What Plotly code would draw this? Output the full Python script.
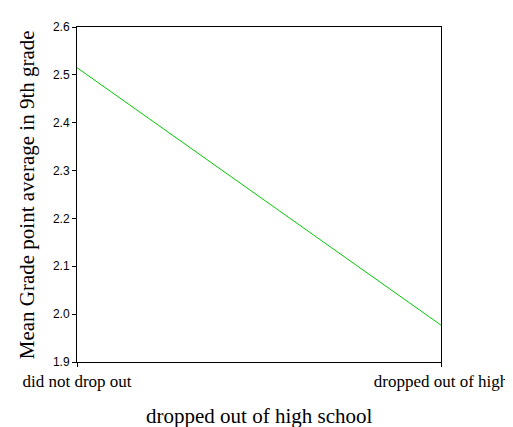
import plotly.graph_objects as go

categories = ["did not drop out", "dropped out of high"]
mean_gpa = [2.515, 1.977]
y_ticks = [1.9, 2.0, 2.1, 2.2, 2.3, 2.4, 2.5, 2.6]
y_title = "Mean Grade point average in 9th grade"
x_title = "dropped out of high school"

x_pos = list(range(len(categories)))

fig = go.Figure()
fig.add_trace(go.Scatter(
    x=x_pos, y=mean_gpa, mode="lines",
    line=dict(color="#00cc00", width=1),
    hoverinfo="skip", showlegend=False,
))

fig.update_layout(
    width=513, height=427,
    margin=dict(l=69, r=74, t=15, b=73),
    paper_bgcolor="white", plot_bgcolor="white",
    showlegend=False,
    xaxis=dict(
        range=[0, len(categories) - 1],
        tickvals=x_pos, ticktext=categories,
        showline=True, linecolor="black", linewidth=1, mirror=True,
        ticks="outside", ticklen=4, tickcolor="black",
        showgrid=False, zeroline=False,
        tickfont=dict(family="Liberation Serif", size=17, color="black"),
    ),
    yaxis=dict(
        range=[1.9, 2.6],
        tickvals=y_ticks, tickformat=".1f",
        showline=True, linecolor="black", linewidth=1, mirror=True,
        ticks="outside", ticklen=4, tickcolor="black",
        showgrid=False, zeroline=False,
        tickfont=dict(family="Liberation Sans", size=12, color="black"),
    ),
    annotations=[
        dict(text=y_title, xref="paper", yref="paper", x=-0.138, y=0.5,
             xanchor="center", yanchor="middle", textangle=-90, showarrow=False,
             font=dict(family="Liberation Serif", size=21, color="black")),
        dict(text=x_title, xref="paper", yref="paper", x=0.5, y=-0.16,
             xanchor="center", yanchor="middle", showarrow=False,
             font=dict(family="Liberation Serif", size=21, color="black")),
    ],
)

fig.write_html("out.html")
